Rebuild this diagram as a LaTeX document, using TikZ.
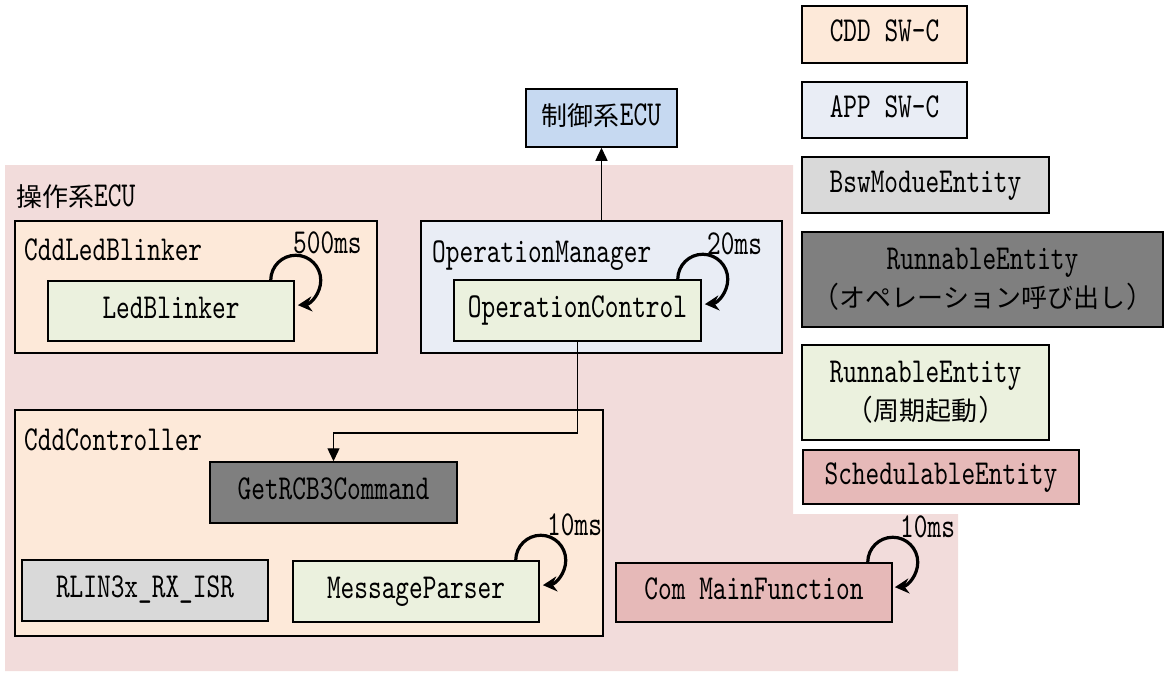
\documentclass[tikz,border=0pt]{standalone}
\usepackage{fontspec}
\setmainfont{lmmono10-regular.otf}[FakeStretch=0.745]
\newfontfamily\jpfont{Noto Sans CJK JP}
\newcommand\jtxt[1]{{\jpfont\fontsize{26}{38}\selectfont #1}}
\usetikzlibrary{arrows.meta,calc}
\definecolor{bgpink}{HTML}{F2DCDB}
\definecolor{cdd}{HTML}{FDE9D9}
\definecolor{app}{HTML}{E9EDF5}
\definecolor{bsw}{HTML}{D9D9D9}
\definecolor{runop}{HTML}{7F7F7F}
\definecolor{runper}{HTML}{EBF1DE}
\definecolor{sched}{HTML}{E6B9B8}
\definecolor{ctrlecu}{HTML}{C6D9F1}
\tikzset{
  bx/.style={draw=black, line width=1.5pt, rectangle, inner sep=0pt},
  tx/.style={text height=20pt, text depth=6pt},
  loopy/.style={line width=3.2pt, -{Stealth[length=14pt,width=15pt]}},
  conn/.style={line width=1.3pt, -{Triangle[length=13pt,width=12pt]}},
}
\begin{document}
\begin{tikzpicture}[x=1pt,y=-1pt, every node/.style={font=\fontsize{35}{38}\selectfont, inner sep=0pt}]
\useasboundingbox (0,0) rectangle (1166,673);
% background ECU region
\fill[bgpink] (5,165) -- (793,165) -- (793,514) -- (958,514) -- (958,671) -- (5,671) -- cycle;
\node[anchor=base west] (opsys) at (16,206) {\jtxt{操作系}ECU};

% CddLedBlinker
\node[bx, fill=cdd, minimum width=362pt, minimum height=132pt] (cddled) at (196,287) {};
\node[anchor=base west] (cddledlbl) at (24,260) {CddLedBlinker};
\node[anchor=base west] (t500) at (293,253) {500ms};
\node[bx, tx, fill=runper, minimum width=246pt, minimum height=60pt] (led) at (171,311) {LedBlinker};
\draw[loopy] ([xshift=-24pt]led.north east) arc[start angle=180, end angle=445, radius=25];

% Control ECU
\node[bx, tx, fill=ctrlecu, minimum width=151pt, minimum height=58pt] (ctrl) at (601.5,118) {\jtxt{制御系}ECU};

% OperationManager
\node[bx, fill=app, minimum width=361pt, minimum height=132pt] (om) at (601.5,287) {};
\node[anchor=base west] (omlbl) at (432,262) {OperationManager};
\node[anchor=base west] (t20) at (707,254) {20ms};
\node[bx, tx, fill=runper, minimum width=247pt, minimum height=61pt] (opc) at (577.5,310.5) {OperationControl};
\draw[loopy] ([xshift=-24pt]opc.north east) arc[start angle=180, end angle=445, radius=25];
\draw[conn] (om.north) -- (ctrl.south);

% CddController
\node[bx, fill=cdd, minimum width=588pt, minimum height=226pt] (cddc) at (309,523) {};
\node[anchor=base west] (cddclbl) at (24,450) {CddController};
\node[bx, tx, fill=runop, minimum width=247pt, minimum height=61pt] (get) at (333.5,492.5) {GetRCB3Command};
\node[bx, tx, fill=bsw, minimum width=246pt, minimum height=61pt] (rlin) at (145,590.5) {RLIN3x\_RX\_ISR};
\node[bx, tx, fill=runper, minimum width=246pt, minimum height=61pt] (mp) at (416,591.5) {MessageParser};
\node[anchor=base west] (t10a) at (547,535) {10ms};
\draw[loopy] ([xshift=-24pt]mp.north east) arc[start angle=180, end angle=445, radius=25];
\coordinate (elb) at (577.5,433);
\draw[conn] (opc.south) -- (opc.south |- elb) -| (get.north);

% Com MainFunction
\node[bx, tx, fill=sched, minimum width=276pt, minimum height=59pt] (com) at (754,592.5) {Com MainFunction};
\node[anchor=base west] (t10b) at (900,537) {10ms};
\draw[loopy] ([xshift=-25pt]com.north east) arc[start angle=180, end angle=445, radius=25];

% Legend
\node[bx, tx, fill=cdd, minimum width=165pt, minimum height=57pt] (lg1) at (884.5,34.5) {CDD SW-C};
\node[bx, tx, fill=app, minimum width=165pt, minimum height=56pt] (lg2) at (884.5,110) {APP SW-C};
\node[bx, tx, fill=bsw, minimum width=247pt, minimum height=56pt] (lg3) at (925.5,185) {BswModueEntity};
\node[bx, fill=runop, align=center, minimum width=361pt, minimum height=95pt] (lg4) at (982.5,279.5) {RunnableEntity\\(\jtxt{オペレーション呼び出し})};
\node[bx, fill=runper, align=center, minimum width=247pt, minimum height=95pt] (lg5) at (925.5,392.5) {RunnableEntity\\(\jtxt{周期起動})};
\node[bx, tx, fill=sched, minimum width=276pt, minimum height=54pt] (lg6) at (941,477) {SchedulableEntity};
\end{tikzpicture}
\end{document}
